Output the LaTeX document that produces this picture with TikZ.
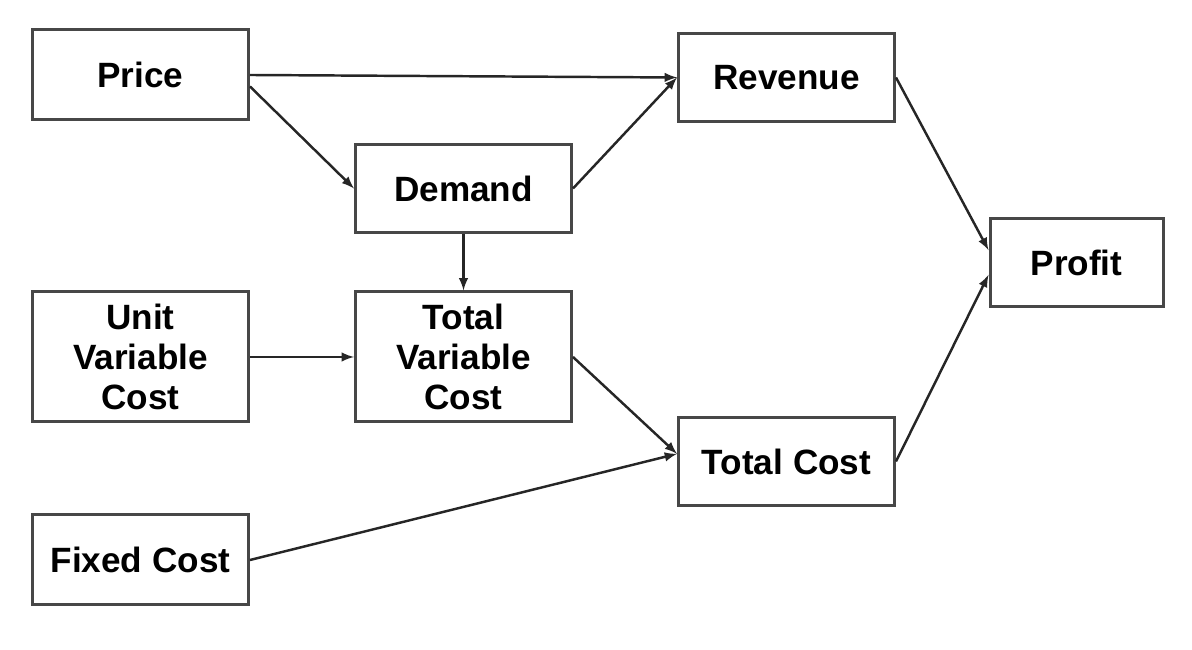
\documentclass[tikz,border=0pt]{standalone}
\usepackage{fontspec}
\setmainfont{Liberation Sans}
\usetikzlibrary{arrows}
\tikzset{>=latex}
\tikzset{
  modelbox/.style={draw=black!72,line width=1.7pt,minimum width=4.32cm,
    minimum height=1.76cm,inner sep=0pt,align=center,
    font=\fontsize{20}{22.7}\selectfont\bfseries},
  link/.style={->,line width=1.4pt,black!85}
}

\begin{document}
\begin{tikzpicture}
    \useasboundingbox (0,0) rectangle (23.84,13);
    \node[modelbox,minimum height=1.8cm] (price) at (2.81,11.5) {Price};
    \node[modelbox] (demand) at (9.27,9.23) {Demand};
    \node[modelbox] (revenue) at (15.73,11.45) {Revenue};
    \node[modelbox,minimum width=3.46cm] (profit) at (21.53,7.75) {Profit};
    \node[modelbox,minimum height=2.6cm] (uvc) at (2.81,5.86)
    {Unit\\Variable\\Cost};
    \node[modelbox,minimum height=2.6cm] (tvc) at (9.27,5.86)
    {Total\\Variable\\Cost};
    \node[modelbox] (tcost) at (15.73,3.77) {Total Cost};
    \node[modelbox,minimum height=1.8cm] (fcost) at (2.81,1.8) {Fixed Cost};
    \draw[link] (price.east) -- (revenue.west);
    \draw[link] (price.-6) -- (demand.west);
    \draw[link] (demand.east) -- (revenue.west);
    \draw[link] (demand.south) -- (tvc.north);
    \draw[link] (uvc.east) -- (tvc.west);
    \draw[link] (tvc.east) -- (tcost.176);
    \draw[link] (fcost.east) -- (tcost.176);
    \draw[link] (revenue.east) -- (profit.172);
    \draw[link] (tcost.east) -- (profit.188);
  \end{tikzpicture}
\end{document}
